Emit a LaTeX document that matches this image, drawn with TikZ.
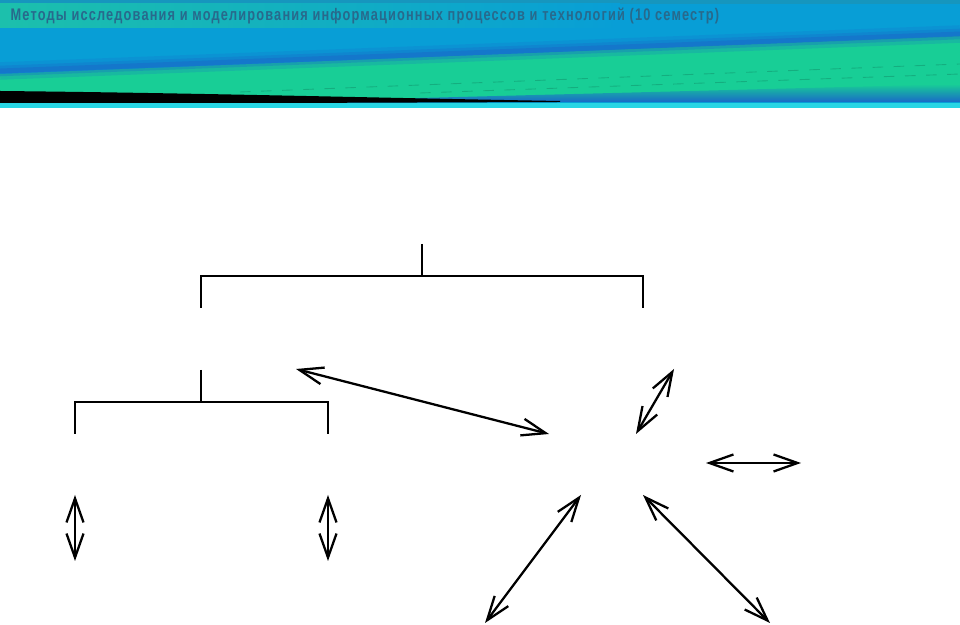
\documentclass[tikz,border=0pt]{standalone}
\usepackage{fontspec}
\setmainfont{Liberation Sans}
\usetikzlibrary{arrows.meta}
\definecolor{hdblue}{RGB}{8,158,214}
\definecolor{hdteal}{RGB}{28,192,172}
\definecolor{hdtop}{RGB}{22,150,190}
\definecolor{hdgreen}{RGB}{24,206,150}
\definecolor{hddark}{RGB}{25,105,200}
\definecolor{hdcyan}{RGB}{40,214,228}
\definecolor{hdtext}{RGB}{40,105,140}
\tikzset{
  br/.style={line width=0.65pt},
  dar/.style={line width=0.65pt,{Straight Barb[length=2.4mm,width=1.7mm]}-{Straight Barb[length=2.4mm,width=1.7mm]}},
}

\begin{document}
\begin{tikzpicture}[x=0.01cm,y=-0.01cm]
\useasboundingbox (0,0) rectangle (960,625);
% banner
\fill[hdblue] (0,0) rectangle (960,108);
\fill[hdtop] (0,0) rectangle (960,4);
\shade[left color=hdteal,right color=hdblue] (0,4) rectangle (620,28);
\fill[hdgreen] (0,74)--(960,36)--(960,88)--(600,97)--(0,100)--cycle;
\draw[hddark,line width=5pt,opacity=0.2] (0,71)--(960,34);
\draw[hddark,line width=3pt,opacity=0.3] (0,71)--(960,34);
\draw[hddark,line width=1.4pt,opacity=0.5] (0,71)--(960,34);
\shade[top color=hdgreen,bottom color=hddark] (420,98)--(960,84)--(960,102)--(420,102)--cycle;
\draw[hdgreen!70!black,dashed,line width=0.25pt,opacity=0.5] (240,92)--(960,64);
\draw[hdgreen!70!black,dashed,line width=0.25pt,opacity=0.5] (420,93)--(960,74);
\fill[black] (0,91) .. controls (200,93) and (380,98) .. (560,101)--(560,102)--(0,104)--cycle;
\fill[hdcyan] (0,103) rectangle (960,108);
\node[anchor=base west,text=hdtext,inner sep=0] (ttl) at (10,21)
  {\resizebox{7.08cm}{0.125cm}{\bfseries\addfontfeature{LetterSpace=9}Методы исследования и моделирования информационных процессов и технологий (10 семестр)}};

% upper tree
\coordinate (rt) at (422,244);
\coordinate (rj) at (422,276);
\coordinate (rl) at (201,276);
\coordinate (rr) at (643,276);
\coordinate (rla) at (201,308);
\coordinate (rra) at (643,308);
\draw[br] (rt)--(rj);
\draw[br] (rla)--(rl)--(rr)--(rra);

% lower tree
\coordinate (st) at (201,370);
\coordinate (sj) at (201,402);
\coordinate (sl) at (75,402);
\coordinate (sr) at (328,402);
\coordinate (sla) at (75,434);
\coordinate (sra) at (328,434);
\draw[br] (st)--(sj);
\draw[br] (sla)--(sl)--(sr)--(sra);

% links
\coordinate (la) at (75,495);
\coordinate (lb) at (75,561);
\coordinate (ma) at (328,495);
\coordinate (mb) at (328,561);
\coordinate (ca) at (296,369);
\coordinate (cb) at (549,434);
\coordinate (ua) at (674,369);
\coordinate (ub) at (636,434);
\coordinate (ha) at (706,463);
\coordinate (hb) at (801,463);
\coordinate (pa) at (581,495);
\coordinate (pb) at (485,623);
\coordinate (qa) at (643,495);
\coordinate (qb) at (770,623);
\draw[dar] (la)--(lb);
\draw[dar] (ma)--(mb);
\draw[dar] (ca)--(cb);
\draw[dar] (ua)--(ub);
\draw[dar] (ha)--(hb);
\draw[dar] (pa)--(pb);
\draw[dar] (qa)--(qb);
\end{tikzpicture}
\end{document}
